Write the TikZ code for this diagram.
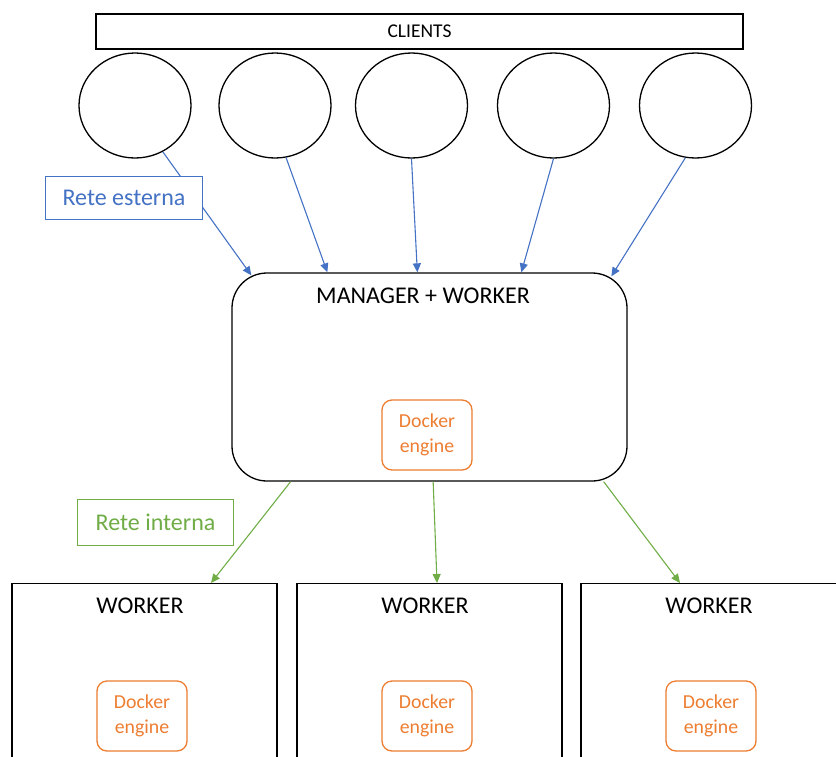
\documentclass[tikz,border=0pt]{standalone}
\usepackage{fontspec}
\setmainfont{Carlito}
\usetikzlibrary{positioning,shapes.geometric,arrows.meta,calc}

\definecolor{reteblu}{RGB}{68,114,196}
\definecolor{retever}{RGB}{112,173,71}
\definecolor{dockor}{RGB}{237,125,49}

\tikzset{
  client/.style={draw,line width=1.3pt,ellipse,minimum width=112pt,minimum height=105pt,inner sep=0pt},
  hostbox/.style={draw,line width=1.3pt,minimum width=265pt,minimum height=240pt,anchor=north,inner sep=0pt},
  hosttitle/.style={font=\fontsize{24}{28}\selectfont,anchor=base,inner sep=0pt},
  engine/.style={draw=dockor,text=dockor,line width=1.3pt,rounded corners=10pt,minimum width=90pt,minimum height=70pt,align=center,inner sep=0pt,font=\fontsize{19.8}{25}\selectfont},
  ext/.style={draw=reteblu,line width=1.1pt,-{Triangle[length=9pt,width=8pt]}},
  int/.style={draw=retever,line width=1.1pt,-{Triangle[length=9pt,width=8pt]}},
  netlabel/.style={draw=#1,text=#1,line width=1pt,fill=white,anchor=north west,inner sep=0pt,font=\fontsize{24}{28}\selectfont}
}

\begin{document}
\begin{tikzpicture}[x=1pt,y=1pt,yscale=-1,xscale=1]
	\useasboundingbox (0,0) rectangle (836,756);

	%Shape: clients bar
	\node (bar) [draw,line width=1.3pt,minimum width=647pt,minimum height=35pt,inner sep=0pt,font=\fontsize{19.5}{22}\selectfont] at (419.5,31.5) {CLIENTS};
	%Shape: clients
	\foreach \n/\cx in {1/135,2/275,3/411.5,4/553.5,5/695.5}
		\node (c\n) [client] at (\cx,105.5) {};

	%Shape: manager
	\node (mgr) [draw,line width=1.3pt,rounded corners=35pt,minimum width=395pt,minimum height=208pt] at (429.5,377) {};
	\node (mgrtitle) [hosttitle] at (423,303) {MANAGER + WORKER};
	\node (mgreng) [engine] at (427,435) {Docker\\engine};

	%Shape: workers
	\foreach \n/\cx in {1/144.5,2/429.5,3/713.5} {
		\node (w\n) [hostbox] at (\cx,583) {};
		\node (w\n title) [hosttitle] at ($(w\n.north)+(-4.5,30)$) {WORKER};
		\node (w\n eng) [engine] at ($(w\n.north)+(-2.5,133)$) {Docker\\engine};
	}

	%Straight Lines: rete esterna
	\draw [ext] (c1.-59) -- ($(mgr.north west)+(20,3)$);
	\draw [ext] (c2.-78) -- ($(mgr.north west)+(96,0)$);
	\draw [ext] (c3.-90) -- ($(mgr.north west)+(186,0)$);
	\draw [ext] (c4.-90) -- ($(mgr.north west)+(290,0)$);
	\draw [ext] (c5.-101.5) -- ($(mgr.north west)+(380,4)$);

	%Straight Lines: rete interna
	\draw [int] (mgr.-143) -- ($(w1.north)+(66.5,0)$);
	\draw [int] (mgr.-88) -- ($(w2.north)+(7.5,0)$);
	\draw [int] (mgr.-31.3) -- ($(w3.north)+(-33.5,0)$);

	% Text Node
	\node (extlabel) [netlabel=reteblu,minimum width=157pt,minimum height=43pt] at (45,176) {Rete esterna};
	% Text Node
	\node (intlabel) [netlabel=retever,minimum width=156pt,minimum height=46pt] at (77,499) {Rete interna};

\end{tikzpicture}
\end{document}
